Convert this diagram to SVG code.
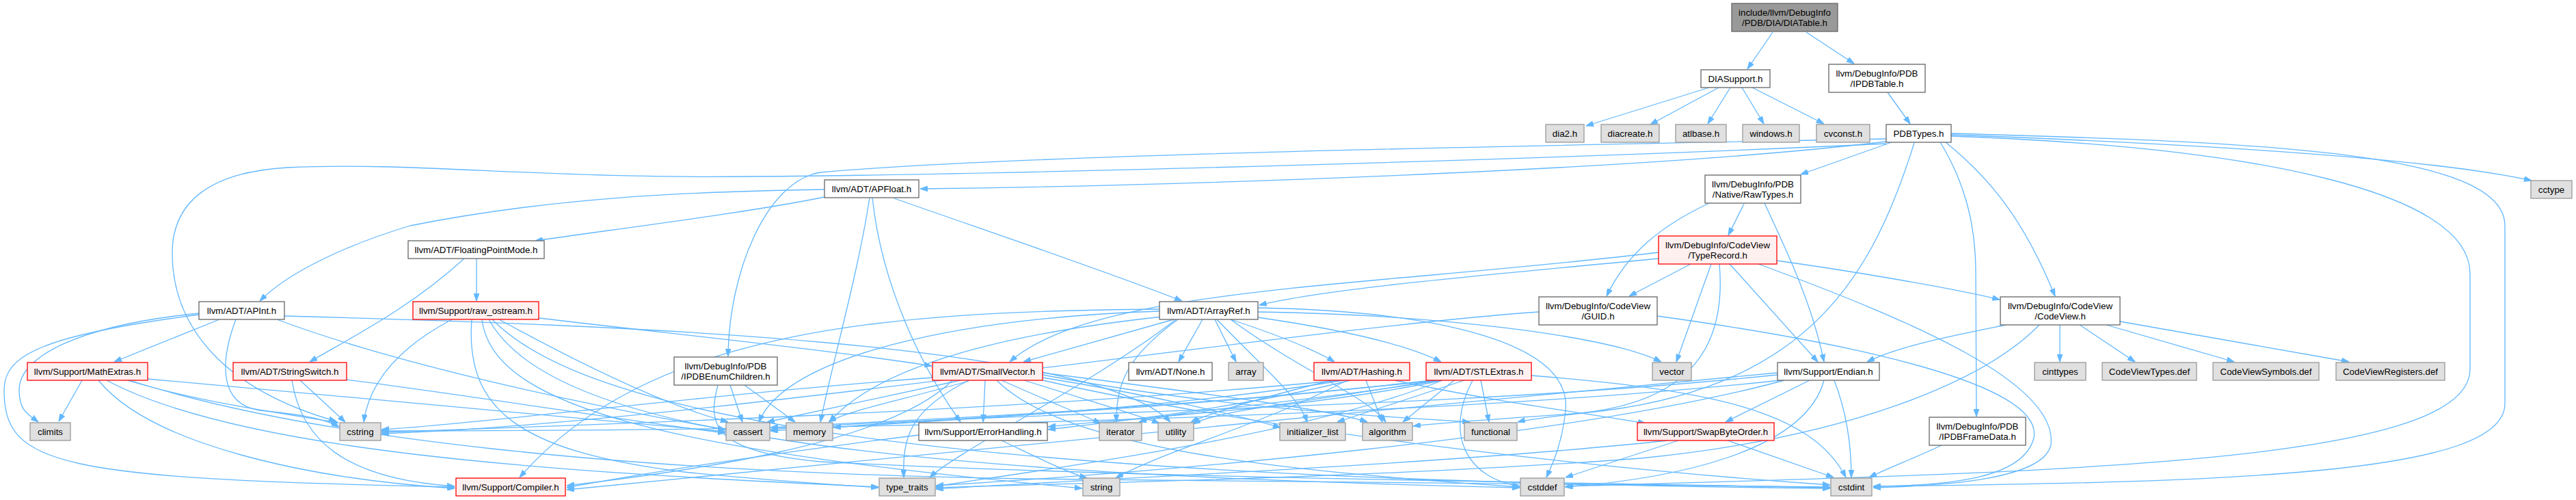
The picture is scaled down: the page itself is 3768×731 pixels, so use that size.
<svg xmlns="http://www.w3.org/2000/svg" width="3768" height="731" viewBox="0 0 3768 731">
<style>
rect{stroke-width:1.3}
.w{fill:#fff;stroke:#666}
.g{fill:#e0e0e0;stroke:#999}
.r{fill:#fff0f0;stroke:#f00}
.k{fill:#999;stroke:#666}
text{font-family:"Liberation Sans",Arial,sans-serif;font-size:13.33px;text-anchor:middle;fill:#000}
#edges path{fill:none;stroke:#63b8ff;stroke-width:1.3;marker-end:url(#a)}
</style>
<defs>
<marker id="a" viewBox="0 0 10 7" refX="10" refY="3.5" markerWidth="11" markerHeight="8" markerUnits="userSpaceOnUse" orient="auto">
<path d="M0,0 L10,3.5 L0,7 z" fill="#63b8ff" stroke="#63b8ff" stroke-width="1"/>
</marker>
</defs>
<rect width="3768" height="731" fill="#fff"/>
<g id="edges">
<path d="M2593,47 L2556,101"/>
<path d="M2642,47 L2712,93"/>
<path d="M2500,128 L2320,184"/>
<path d="M2514,128 L2414,182"/>
<path d="M2531,128 L2498,181"/>
<path d="M2548,128 L2580,181"/>
<path d="M2563,128 L2668,181"/>
<path d="M2761,135 L2794,181"/>
<path d="M2759,207 C2400,250 1700,272 1346,276"/>
<path d="M2759,203 C2300,212 1500,225 1200,252 C1120,265 1066,400 1065,521"/>
<path d="M2759,210 C2300,232 1500,255 1104,258 C800,262 600,236 420,245 C300,252 252,300 252,370 C252,480 330,570 492,616"/>
<path d="M2767,208 L2634,255"/>
<path d="M2800,209 C2740,400 2650,560 2350,600 C2280,608 2240,612 2220,617"/>
<path d="M2838,208 C2870,260 2890,320 2890,400 L2891,609"/>
<path d="M2846,208 C2910,260 2960,320 3006,433"/>
<path d="M2854,197 C3200,210 3550,230 3703,264"/>
<path d="M2854,195 C3300,208 3664,220 3664,330 L3664,590 C3664,690 3300,705 2740,711"/>
<path d="M2854,199 C3300,215 3613,280 3613,400 L3613,540 C3613,680 3000,690 2290,711"/>
<path d="M1206,277 C1000,280 800,290 600,330 C500,360 420,400 380,440"/>
<path d="M1206,288 C1100,310 900,335 783,352"/>
<path d="M1272,289 C1255,400 1220,520 1200,617"/>
<path d="M1276,289 C1290,420 1350,540 1405,617"/>
<path d="M1308,290 C1450,340 1600,390 1729,440"/>
<path d="M697,378 L697,440"/>
<path d="M679,378 C600,450 520,490 453,529"/>
<path d="M321,467 L167,529"/>
<path d="M291,458 C120,475 28,520 28,570 C28,600 40,605 56,617"/>
<path d="M291,460 C60,490 6,520 6,570 C6,680 80,700 665,712"/>
<path d="M345,467 C325,520 315,590 380,600 C430,605 470,610 496,624"/>
<path d="M405,467 C600,540 900,600 1061,628"/>
<path d="M416,462 C900,475 1600,500 1712,617"/>
<path d="M120,556 L86,616"/>
<path d="M186,556 C300,590 420,605 495,618"/>
<path d="M216,554 C500,580 900,615 1061,631"/>
<path d="M144,556 C220,650 450,700 665,714"/>
<path d="M156,556 C350,660 800,690 1285,712"/>
<path d="M190,556 C450,640 900,690 1500,700 C2000,708 2500,708 2677,712"/>
<path d="M439,556 L505,617"/>
<path d="M427,556 C440,640 500,700 665,711"/>
<path d="M507,555 C700,580 950,620 1061,633"/>
<path d="M661,467 C580,510 540,560 532,617"/>
<path d="M788,465 C1000,490 1200,510 1363,535"/>
<path d="M730,467 C900,560 1000,600 1065,617"/>
<path d="M690,467 C680,600 760,660 1000,690 C1150,705 1250,710 1285,713"/>
<path d="M705,467 C720,600 1000,660 1583,714"/>
<path d="M715,467 C800,620 1200,690 2223,713"/>
<path d="M720,467 C850,600 1300,700 2677,714"/>
<path d="M1759,467 L1724,529"/>
<path d="M1777,467 L1808,529"/>
<path d="M1723,467 C1650,520 1632,560 1633,617"/>
<path d="M1717,467 L1497,529"/>
<path d="M1800,467 C1870,490 1920,510 1952,529"/>
<path d="M1840,464 C1950,480 2050,500 2108,529"/>
<path d="M1840,456 C2100,460 2350,490 2430,529"/>
<path d="M1696,452 C1300,455 950,480 760,698"/>
<path d="M1696,455 C1400,465 1150,520 1110,617"/>
<path d="M1700,463 C1450,490 1280,540 1213,617"/>
<path d="M1720,467 C1600,560 1400,660 1360,698"/>
<path d="M1840,450 C2100,455 2300,500 2290,600 C2285,650 2270,680 2262,698"/>
<path d="M1800,467 C1900,540 2000,580 2027,617"/>
<path d="M1780,467 C1850,540 1900,580 1912,617"/>
<path d="M1364,552 C1000,580 700,620 558,628"/>
<path d="M1405,556 L1122,617"/>
<path d="M1417,557 C1320,585 1240,600 1212,617"/>
<path d="M1441,556 L1438,617"/>
<path d="M1465,556 C1530,585 1580,605 1610,619"/>
<path d="M1498,556 C1590,585 1660,605 1696,619"/>
<path d="M1525,552 C1700,580 1820,610 1873,625"/>
<path d="M1417,556 C1330,600 1320,640 1322,698"/>
<path d="M1393,556 C1300,650 1000,690 829,710"/>
<path d="M1458,556 C1560,660 1900,690 2223,712"/>
<path d="M1525,545 C1800,580 1950,600 2000,617"/>
<path d="M1525,548 C1800,600 2050,610 2150,617"/>
<path d="M1525,556 C1900,640 2400,690 2677,709"/>
<path d="M1344,636 C1150,660 950,690 829,713"/>
<path d="M1465,644 C1520,670 1560,690 1590,699"/>
<path d="M1068,563 L1086,617"/>
<path d="M1089,563 L1163,617"/>
<path d="M1050,563 C1035,620 1040,660 1200,675 C1700,700 2300,705 2677,713"/>
<path d="M2040,556 C2200,590 2330,605 2407,619"/>
<path d="M1998,556 L2022,617"/>
<path d="M1975,556 C1800,600 1600,620 1533,628"/>
<path d="M1965,556 C1700,600 1300,620 1127,630"/>
<path d="M1960,556 C1500,600 900,620 558,632"/>
<path d="M1970,556 C1850,620 1700,660 1632,699"/>
<path d="M1960,553 C1850,580 1780,600 1742,617"/>
<path d="M2127,556 L2052,617"/>
<path d="M2142,556 L1956,617"/>
<path d="M2166,556 L2178,617"/>
<path d="M2154,556 C2110,640 2150,700 2223,711"/>
<path d="M2240,549 C2500,570 2650,600 2700,698"/>
<path d="M2110,556 C1900,600 1650,610 1533,624"/>
<path d="M2105,556 C1900,590 1720,600 1666,617"/>
<path d="M2100,556 C1900,590 1780,600 1745,620"/>
<path d="M2100,556 C1700,600 1400,610 1219,625"/>
<path d="M2095,556 C1700,600 1300,615 1127,625"/>
<path d="M2110,556 C1900,640 1500,690 1369,711"/>
<path d="M2647,556 L2524,617"/>
<path d="M2683,556 C2700,600 2708,650 2708,698"/>
<path d="M2668,556 C2640,660 2450,700 2289,712"/>
<path d="M2600,545 C2000,600 1200,680 829,716"/>
<path d="M2600,548 C2100,600 1500,600 1127,628"/>
<path d="M2605,556 C2000,620 1000,630 558,630"/>
<path d="M2610,556 C2300,640 1700,690 1369,710"/>
<path d="M2424,462 C2700,500 2990,560 2975,640 C2960,700 2850,710 2740,711"/>
<path d="M2251,456 C1900,480 1000,620 558,634"/>
<path d="M2473,386 L2383,433"/>
<path d="M2503,386 L2452,529"/>
<path d="M2530,386 L2659,529"/>
<path d="M2599,381 C2700,395 2850,420 2925,438"/>
<path d="M2572,386 C2800,470 3010,560 3000,650 C2990,700 2850,710 2740,713"/>
<path d="M2426,378 C2200,400 1950,420 1842,446"/>
<path d="M2426,369 C2000,420 1600,420 1477,529"/>
<path d="M2515,386 C2525,500 2480,590 2300,605 C2150,615 2090,620 2067,623"/>
<path d="M2500,297 C2430,330 2380,370 2350,433"/>
<path d="M2551,298 L2528,344"/>
<path d="M2581,297 C2610,360 2650,440 2668,529"/>
<path d="M3013,475 L3013,529"/>
<path d="M3042,475 L3123,529"/>
<path d="M3081,475 L3268,529"/>
<path d="M3101,470 L3436,529"/>
<path d="M2934,475 C2860,490 2780,505 2731,529"/>
<path d="M2983,475 C2900,560 2700,640 2400,670 C2000,700 1500,708 1369,713"/>
<path d="M2840,651 C2800,670 2760,685 2734,698"/>
<path d="M2440,644 C2100,680 1600,700 1369,715"/>
<path d="M2455,644 L2290,698"/>
<path d="M2527,644 L2682,698"/>
</g>
<g id="nodes">
<g id="root"><rect class="k" x="2533" y="5" width="155" height="41"/><text x="2610.5" y="22.5">include/llvm/DebugInfo</text><text x="2610.5" y="37.5">/PDB/DIA/DIATable.h</text></g>
<g id="diasupport"><rect class="w" x="2488" y="102" width="101" height="26"/><text x="2538.5" y="119.5">DIASupport.h</text></g>
<g id="ipdbtable"><rect class="w" x="2675" y="94" width="141" height="41"/><text x="2745.5" y="111.5">llvm/DebugInfo/PDB</text><text x="2745.5" y="126.5">/IPDBTable.h</text></g>
<g id="dia2"><rect class="g" x="2261" y="182" width="56" height="26"/><text x="2289" y="199.5">dia2.h</text></g>
<g id="diacreate"><rect class="g" x="2342" y="182" width="85" height="26"/><text x="2384.5" y="199.5">diacreate.h</text></g>
<g id="atlbase"><rect class="g" x="2451" y="182" width="74" height="26"/><text x="2488" y="199.5">atlbase.h</text></g>
<g id="windows"><rect class="g" x="2549" y="182" width="83" height="26"/><text x="2590.5" y="199.5">windows.h</text></g>
<g id="cvconst"><rect class="g" x="2657" y="182" width="78" height="26"/><text x="2696" y="199.5">cvconst.h</text></g>
<g id="pdbtypes"><rect class="w" x="2759" y="182" width="95" height="26"/><text x="2806.5" y="199.5">PDBTypes.h</text></g>
<g id="cctype"><rect class="g" x="3702" y="264" width="60" height="26"/><text x="3732" y="281.5">cctype</text></g>
<g id="rawtypes"><rect class="w" x="2494" y="256" width="140" height="41"/><text x="2564" y="273.5">llvm/DebugInfo/PDB</text><text x="2564" y="288.5">/Native/RawTypes.h</text></g>
<g id="typerecord"><rect class="r" x="2426" y="345" width="173" height="41"/><text x="2512.5" y="362.5">llvm/DebugInfo/CodeView</text><text x="2512.5" y="377.5">/TypeRecord.h</text></g>
<g id="apfloat"><rect class="w" x="1206" y="263" width="138" height="26"/><text x="1275" y="280.5">llvm/ADT/APFloat.h</text></g>
<g id="fpmode"><rect class="w" x="597" y="352" width="199" height="26"/><text x="696.5" y="369.5">llvm/ADT/FloatingPointMode.h</text></g>
<g id="apint"><rect class="w" x="291" y="441" width="125" height="26"/><text x="353.5" y="458.5">llvm/ADT/APInt.h</text></g>
<g id="rawostream"><rect class="r" x="604" y="441" width="184" height="26"/><text x="696" y="458.5">llvm/Support/raw_ostream.h</text></g>
<g id="arrayref"><rect class="w" x="1696" y="441" width="144" height="26"/><text x="1768" y="458.5">llvm/ADT/ArrayRef.h</text></g>
<g id="guid"><rect class="w" x="2251" y="434" width="173" height="41"/><text x="2337.5" y="451.5">llvm/DebugInfo/CodeView</text><text x="2337.5" y="466.5">/GUID.h</text></g>
<g id="codeview"><rect class="w" x="2926" y="434" width="175" height="41"/><text x="3013.5" y="451.5">llvm/DebugInfo/CodeView</text><text x="3013.5" y="466.5">/CodeView.h</text></g>
<g id="mathextras"><rect class="r" x="40" y="530" width="176" height="26"/><text x="128" y="547.5">llvm/Support/MathExtras.h</text></g>
<g id="stringswitch"><rect class="r" x="341" y="530" width="166" height="26"/><text x="424" y="547.5">llvm/ADT/StringSwitch.h</text></g>
<g id="ipdbenumchildren"><rect class="w" x="986" y="522" width="151" height="41"/><text x="1061.5" y="539.5">llvm/DebugInfo/PDB</text><text x="1061.5" y="554.5">/IPDBEnumChildren.h</text></g>
<g id="smallvector"><rect class="r" x="1364" y="530" width="161" height="26"/><text x="1444.5" y="547.5">llvm/ADT/SmallVector.h</text></g>
<g id="none"><rect class="w" x="1651" y="530" width="122" height="26"/><text x="1712" y="547.5">llvm/ADT/None.h</text></g>
<g id="array"><rect class="g" x="1797" y="530" width="51" height="26"/><text x="1822.5" y="547.5">array</text></g>
<g id="hashing"><rect class="r" x="1922" y="530" width="140" height="26"/><text x="1992" y="547.5">llvm/ADT/Hashing.h</text></g>
<g id="stlextras"><rect class="r" x="2086" y="530" width="154" height="26"/><text x="2163" y="547.5">llvm/ADT/STLExtras.h</text></g>
<g id="vector"><rect class="g" x="2417" y="530" width="57" height="26"/><text x="2445.5" y="547.5">vector</text></g>
<g id="endian"><rect class="w" x="2600" y="530" width="149" height="26"/><text x="2674.5" y="547.5">llvm/Support/Endian.h</text></g>
<g id="cinttypes"><rect class="g" x="2976" y="530" width="75" height="26"/><text x="3013.5" y="547.5">cinttypes</text></g>
<g id="cvtypes"><rect class="g" x="3075" y="530" width="138" height="26"/><text x="3144" y="547.5">CodeViewTypes.def</text></g>
<g id="cvsymbols"><rect class="g" x="3237" y="530" width="155" height="26"/><text x="3314.5" y="547.5">CodeViewSymbols.def</text></g>
<g id="cvregisters"><rect class="g" x="3417" y="530" width="159" height="26"/><text x="3496.5" y="547.5">CodeViewRegisters.def</text></g>
<g id="ipdbframedata"><rect class="w" x="2822" y="610" width="141" height="41"/><text x="2892.5" y="627.5">llvm/DebugInfo/PDB</text><text x="2892.5" y="642.5">/IPDBFrameData.h</text></g>
<g id="climits"><rect class="g" x="44" y="618" width="59" height="26"/><text x="73.5" y="635.5">climits</text></g>
<g id="cstring"><rect class="g" x="497" y="618" width="60" height="26"/><text x="527" y="635.5">cstring</text></g>
<g id="cassert"><rect class="g" x="1062" y="618" width="64" height="26"/><text x="1094" y="635.5">cassert</text></g>
<g id="memory"><rect class="g" x="1150" y="618" width="68" height="26"/><text x="1184" y="635.5">memory</text></g>
<g id="errorhandling"><rect class="w" x="1344" y="618" width="188" height="26"/><text x="1438" y="635.5">llvm/Support/ErrorHandling.h</text></g>
<g id="iterator"><rect class="g" x="1608" y="618" width="62" height="26"/><text x="1639" y="635.5">iterator</text></g>
<g id="utility"><rect class="g" x="1694" y="618" width="52" height="26"/><text x="1720" y="635.5">utility</text></g>
<g id="initializer_list"><rect class="g" x="1872" y="618" width="96" height="26"/><text x="1920" y="635.5">initializer_list</text></g>
<g id="algorithm"><rect class="g" x="1993" y="618" width="73" height="26"/><text x="2029.5" y="635.5">algorithm</text></g>
<g id="functional"><rect class="g" x="2142" y="618" width="77" height="26"/><text x="2180.5" y="635.5">functional</text></g>
<g id="swapbyteorder"><rect class="r" x="2395" y="618" width="200" height="26"/><text x="2495" y="635.5">llvm/Support/SwapByteOrder.h</text></g>
<g id="compiler"><rect class="r" x="667" y="699" width="160" height="26"/><text x="747" y="716.5">llvm/Support/Compiler.h</text></g>
<g id="type_traits"><rect class="g" x="1286" y="699" width="82" height="26"/><text x="1327" y="716.5">type_traits</text></g>
<g id="string"><rect class="g" x="1584" y="699" width="54" height="26"/><text x="1611" y="716.5">string</text></g>
<g id="cstddef"><rect class="g" x="2224" y="699" width="64" height="26"/><text x="2256" y="716.5">cstddef</text></g>
<g id="cstdint"><rect class="g" x="2678" y="699" width="60" height="26"/><text x="2708" y="716.5">cstdint</text></g>
</g>
</svg>
